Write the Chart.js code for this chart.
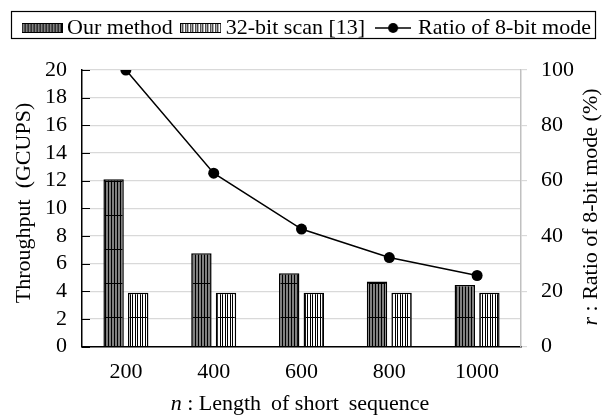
<!DOCTYPE html>
<html>
<head>
<meta charset="utf-8">
<script src="https://cdn.jsdelivr.net/npm/chart.js@4/dist/chart.umd.min.js"></script>
<style>
html,body{margin:0;padding:0;background:#fff;}
#wrap{width:605px;height:417px;position:relative;}
</style>
</head>
<body>
<div id="wrap"><canvas id="c" width="605" height="417"></canvas></div>
<script>
const categories = ['200', '400', '600', '800', '1000'];
const ourMethod = [12.1, 6.75, 5.3, 4.7, 4.45];
const scan32 = [3.9, 3.9, 3.9, 3.9, 3.9];
const ratio8bit = [100, 62.7, 42.5, 32.2, 25.7];
const leftTicks = [0, 2, 4, 6, 8, 10, 12, 14, 16, 18, 20];

const FONT = '"Liberation Serif", "Times New Roman", serif';

function makePattern(kind) {
  const c = document.createElement('canvas');
  const ctx = c.getContext('2d');
  if (kind === 'our') {
    c.width = 6; c.height = 34;
    ctx.fillStyle = '#808080'; ctx.fillRect(0, 0, 6, 34);
    ctx.fillStyle = '#000';
    ctx.fillRect(0, 0, 1, 34); ctx.fillRect(3, 0, 1, 34);
    ctx.fillRect(0, 11, 6, 1);
  } else {
    c.width = 5; c.height = 34;
    ctx.fillStyle = '#fff'; ctx.fillRect(0, 0, 5, 34);
    ctx.fillStyle = '#000';
    ctx.fillRect(0, 0, 1, 34); ctx.fillRect(2, 0, 1, 34);
    ctx.fillRect(0, 11, 5, 1);
  }
  return document.createElement('canvas').getContext('2d').createPattern(c, 'repeat');
}
const patOur = makePattern('our');
const patScan = makePattern('scan');

function swatch(pat) {
  const c = document.createElement('canvas');
  c.width = 41; c.height = 12;
  const ctx = c.getContext('2d');
  ctx.fillStyle = pat; ctx.fillRect(0, 1, 41, 10);
  ctx.strokeStyle = '#000'; ctx.lineWidth = 1;
  ctx.strokeRect(0.5, 1.5, 40, 9);
  return c;
}
function lineSwatch() {
  const c = document.createElement('canvas');
  c.width = 36; c.height = 12;
  const ctx = c.getContext('2d');
  ctx.strokeStyle = '#000'; ctx.lineWidth = 1.5;
  ctx.beginPath(); ctx.moveTo(0, 6); ctx.lineTo(36, 6); ctx.stroke();
  ctx.fillStyle = '#000';
  ctx.beginPath(); ctx.arc(18, 6, 5, 0, Math.PI * 2); ctx.fill();
  return c;
}
const legendSwatches = [swatch(patOur), swatch(patScan), lineSwatch()];

function drawMixed(ctx, parts, x, y) {
  let total = 0;
  parts.forEach(p => { ctx.font = (p.italic ? 'italic ' : '') + '22px ' + FONT; p.w = ctx.measureText(p.text).width; total += p.w; });
  let cx = x - total / 2;
  parts.forEach(p => {
    ctx.font = (p.italic ? 'italic ' : '') + '22px ' + FONT;
    ctx.fillText(p.text, cx, y);
    cx += p.w;
  });
}

const decor = {
  id: 'decor',
  afterDraw(chart) {
    const ctx = chart.ctx;
    const ys = chart.scales.y;
    const area = chart.chartArea;
    ctx.save();
    ctx.strokeStyle = '#000'; ctx.lineWidth = 1;
    leftTicks.forEach(v => {
      const py = Math.round(ys.getPixelForValue(v)) + 0.5;
      ctx.beginPath(); ctx.moveTo(area.left, py); ctx.lineTo(area.left + 8, py); ctx.stroke();
    });
    const lg = chart.legend;
    if (lg && lg.legendHitBoxes && lg.legendHitBoxes.length) {
      const hb = lg.legendHitBoxes;
      const l = hb[0].left - 7 - 10;
      const last = hb[hb.length - 1];
      const r = last.left + last.width + 4;
      ctx.strokeStyle = '#000'; ctx.lineWidth = 1.2;
      ctx.strokeRect(Math.round(l) + 0.5, 11.5, Math.round(r - l), 27);
    }
    ctx.fillStyle = '#000';
    ctx.textBaseline = 'middle';
    ctx.textAlign = 'left';
    ctx.save();
    ctx.translate(24, 203);
    ctx.rotate(-Math.PI / 2);
    drawMixed(ctx, [{text: 'Throughput\u2002(GCUPS)', italic: false}], 0, 0);
    ctx.restore();
    ctx.save();
    ctx.translate(591, 207);
    ctx.rotate(-Math.PI / 2);
    drawMixed(ctx, [{text: 'r', italic: true}, {text: ' : Ratio of 8-bit mode (%)', italic: false}], 0, 0);
    ctx.restore();
    drawMixed(ctx, [{text: 'n', italic: true}, {text: ' : Length \u2009of short\u2009 sequence', italic: false}], 300, 404);
    ctx.restore();
  }
};

new Chart(document.getElementById('c'), {
  type: 'bar',
  data: {
    labels: categories,
    datasets: [
      {
        label: 'Our method',
        data: ourMethod,
        backgroundColor: patOur,
        borderColor: '#000',
        borderWidth: 1.5,
        yAxisID: 'y',
        categoryPercentage: 0.56,
        barPercentage: 0.83
      },
      {
        label: '32-bit scan [13]',
        data: scan32,
        backgroundColor: patScan,
        borderColor: '#000',
        borderWidth: 1.5,
        yAxisID: 'y',
        categoryPercentage: 0.56,
        barPercentage: 0.83
      },
      {
        type: 'line',
        label: 'Ratio of 8-bit mode',
        data: ratio8bit,
        borderColor: '#000',
        backgroundColor: '#000',
        borderWidth: 1.5,
        pointStyle: 'circle',
        pointRadius: 5.5,
        pointBackgroundColor: '#000',
        pointBorderWidth: 0,
        tension: 0,
        yAxisID: 'y1'
      }
    ]
  },
  options: {
    responsive: false,
    animation: false,
    devicePixelRatio: 1,
    layout: { padding: { top: 3, left: 0, right: 0, bottom: 20 } },
    plugins: {
      tooltip: { enabled: false },
      title: {
        display: true,
        text: ' ',
        position: 'top',
        weight: 500,
        padding: 0,
        font: { size: 21, lineHeight: 1 }
      },
      legend: {
        display: true,
        position: 'top',
        align: 'end',
        labels: {
          usePointStyle: true,
          pointStyleWidth: 28,
          boxHeight: 11,
          padding: 14,
          color: '#000',
          font: { family: FONT, size: 22 },
          generateLabels(chart) {
            return chart.data.datasets.map((ds, i) => ({
              text: ds.label,
              pointStyle: legendSwatches[i],
              fillStyle: '#000',
              strokeStyle: '#000',
              lineWidth: 0,
              hidden: false,
              datasetIndex: i,
              fontColor: '#000'
            }));
          }
        }
      }
    },
    scales: {
      x: {
        type: 'category',
        offset: true,
        grid: { display: false, drawTicks: false },
        border: { display: true, color: '#000', width: 1.5 },
        ticks: { color: '#000', font: { family: FONT, size: 22 }, padding: 12, maxRotation: 0, autoSkip: false }
      },
      y: {
        position: 'left',
        min: 0, max: 20,
        afterFit(s) { s.width = 82; },
        ticks: { stepSize: 2, autoSkip: false, color: '#000', font: { family: FONT, size: 22 }, padding: 15 },
        grid: { color: '#d9d9d9', lineWidth: 1.2, drawTicks: false },
        border: { display: true, color: '#000', width: 1.5 }
      },
      y1: {
        position: 'right',
        min: 0, max: 100,
        afterFit(s) { s.width = 84; },
        ticks: { stepSize: 20, autoSkip: false, color: '#000', font: { family: FONT, size: 22 }, padding: 14 },
        grid: { drawOnChartArea: false, drawTicks: true, tickLength: 6, color: '#d9d9d9', lineWidth: 1.2 },
        border: { display: true, color: '#c0c0c0', width: 1.5 }
      }
    }
  },
  plugins: [decor]
});
</script>
</body>
</html>
